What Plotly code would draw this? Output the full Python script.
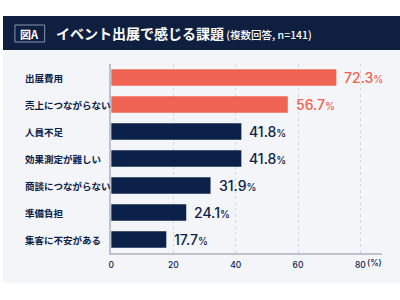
import plotly.graph_objects as go

categories = ["出展費用", "売上につながらない", "人員不足", "効果測定が難しい",
              "商談につながらない", "準備負担", "集客に不安がある"]
values = [72.3, 56.7, 41.8, 41.8, 31.9, 24.1, 17.7]
highlight = [True, True, False, False, False, False, False]
x_ticks = [0, 20, 40, 60, 80]

CORAL = "#ef6352"
NAVY = "#0c214a"
BAND = "#0f1f40"
BG = "#f3f5f8"
JP = "Noto Sans CJK JP"

colors = [CORAL if h else NAVY for h in highlight]

fig = go.Figure()
fig.add_trace(go.Bar(
    x=values, y=categories, orientation="h",
    marker=dict(color=colors, line=dict(width=0)),
    width=0.62,
    hoverinfo="skip",
))

X0, X1 = 109 / 400, 382 / 400
Y0, Y1 = 1 - 253 / 300, 1 - 64 / 300

fig.update_layout(
    width=400, height=300,
    margin=dict(l=0, r=0, t=0, b=0),
    paper_bgcolor="white", plot_bgcolor=BG,
    showlegend=False,
    xaxis=dict(domain=[X0, X1], range=[0, 87], tickvals=x_ticks,
               showgrid=True, gridcolor="#d3d8e0", griddash="dot", gridwidth=1,
               zeroline=False, showline=True, linecolor="#bcc3cf", linewidth=2,
               ticks="", tickfont=dict(family="Inter, Noto Sans", size=8.5, color=NAVY, weight=500),
               ticklabelstandoff=3, fixedrange=True),
    yaxis=dict(domain=[Y0, Y1], autorange="reversed", showticklabels=False,
               showgrid=False, zeroline=False, showline=True,
               linecolor="#bcc3cf", linewidth=2, ticks="", fixedrange=True),
)

shapes = [
    dict(type="rect", xref="paper", yref="paper", x0=0, x1=1,
         y0=1 - 283 / 300, y1=1 - 50 / 300, fillcolor=BG, line=dict(width=0), layer="below"),
    dict(type="rect", xref="paper", yref="paper", x0=0, x1=1,
         y0=1 - 50 / 300, y1=1 - 16 / 300, fillcolor=BAND, line=dict(width=0), layer="below"),
    dict(type="rect", xref="paper", yref="paper", x0=12 / 400, x1=42 / 400,
         y0=1 - 42 / 300, y1=1 - 25 / 300, fillcolor=BAND,
         line=dict(width=1, color="#8a96ad"), layer="above"),
]
fig.update_layout(shapes=shapes)

ann = []
for c, v, col in zip(categories, values, colors):
    ann.append(dict(x=20 / 400, xref="paper", y=c, yref="y", text=c, showarrow=False,
                    xanchor="left", yanchor="middle",
                    font=dict(family=JP, size=9.5, color=NAVY, weight="bold")))
    ann.append(dict(x=v, xref="x", y=c, yref="y",
                    text=f"{v:.1f}<span style='font-size:10px'>%</span>",
                    showarrow=False, xanchor="left", yanchor="middle", xshift=6,
                    font=dict(family="Inter, Noto Sans", size=14, color=col, weight=500)))
ann.append(dict(x=27 / 400, xref="paper", y=1 - 33.5 / 300, yref="paper", text="図A",
                showarrow=False, xanchor="center", yanchor="middle",
                font=dict(family=JP, size=11, color="white", weight="bold")))
ann.append(dict(x=51 / 400, xref="paper", y=1 - 33 / 300, yref="paper",
                text="イベント出展で感じる課題<span style='font-size:10.5px;font-weight:500'> (複数回答, n=141)</span>",
                showarrow=False, xanchor="left", yanchor="middle",
                font=dict(family=JP, size=14, color="white", weight="bold")))
ann.append(dict(x=384 / 400, xref="paper", y=1 - 263 / 300, yref="paper", text="(%)",
                showarrow=False, xanchor="right", yanchor="middle",
                font=dict(family="Inter, Noto Sans", size=8.5, color=NAVY, weight=500)))
fig.update_layout(annotations=ann)

fig.write_html("out.html")
